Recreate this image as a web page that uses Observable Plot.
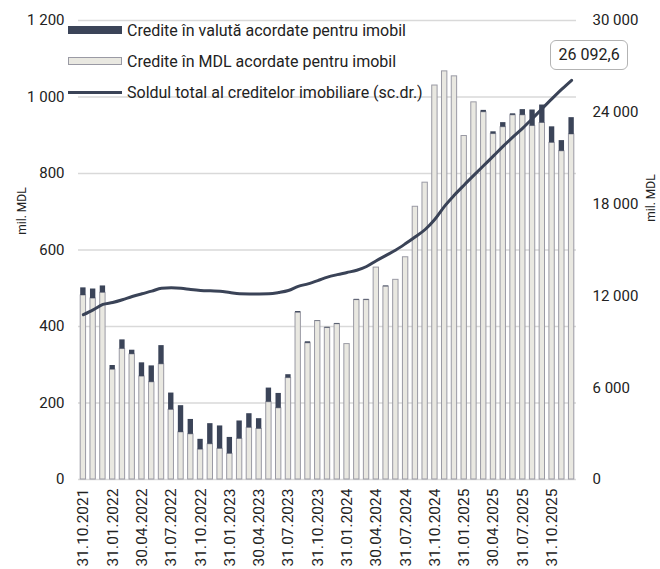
<!DOCTYPE html>
<html><head><meta charset="utf-8">
<script src="https://cdn.jsdelivr.net/npm/d3@7"></script>
<script src="https://cdn.jsdelivr.net/npm/@observablehq/plot@0.6"></script>
<style>
body{margin:0;background:#fff;font-family:Roboto,sans-serif;}
#wrap{position:relative;width:660px;height:569px;overflow:hidden;}
.leg{position:absolute;left:68px;height:20px;font-size:16px;color:#222;display:flex;align-items:center;white-space:nowrap;}
.sw{width:54px;margin-right:5px;box-sizing:border-box;flex:none;}
.ttl{position:absolute;font-size:12px;color:#222;white-space:nowrap;transform:translate(-50%,-50%) rotate(-90deg);}
#lbl{position:absolute;box-sizing:border-box;width:78px;height:30px;border:1.5px solid #b3b3b3;border-radius:6px;background:#fff;font-size:16px;color:#222;display:flex;align-items:center;justify-content:center;}
</style></head><body><div id="wrap"></div>
<script>
const dates = ["31.10.2021","30.11.2021","31.12.2021","31.01.2022","28.02.2022","31.03.2022","30.04.2022","31.05.2022","30.06.2022","31.07.2022","31.08.2022","30.09.2022","31.10.2022","30.11.2022","31.12.2022","31.01.2023","28.02.2023","31.03.2023","30.04.2023","31.05.2023","30.06.2023","31.07.2023","31.08.2023","30.09.2023","31.10.2023","30.11.2023","31.12.2023","31.01.2024","29.02.2024","31.03.2024","30.04.2024","31.05.2024","30.06.2024","31.07.2024","31.08.2024","30.09.2024","31.10.2024","30.11.2024","31.12.2024","31.01.2025","28.02.2025","31.03.2025","30.04.2025","31.05.2025","30.06.2025","31.07.2025","31.08.2025","30.09.2025","31.10.2025","30.11.2025","31.12.2025"];
const mdl = [481,473,488,287,341,327,269,254,301,182,123,118,78,92,80,67,106,135,132,202,186,265,436,356,414,396,406,354,469,469,554,504,522,581,713,776,1030,1067,1054,898,986,960,903,921,952,952,924,932,880,858,902];
const fx = [20,25,18,11,24,11,36,43,49,44,70,39,27,54,60,43,47,37,27,37,39,9,3,4,1,2,2,0,2,2,0,2,0,0,0,0,0,0,0,0,0,5,6,12,4,15,42,47,42,28,44];
const total = [10770,11090,11440,11570,11750,11960,12140,12310,12500,12530,12500,12420,12360,12330,12310,12220,12140,12130,12130,12140,12220,12350,12620,12790,13000,13230,13390,13530,13680,13920,14300,14650,15000,15420,15870,16340,17010,17870,18590,19250,19890,20520,21150,21790,22390,22970,23600,24250,24890,25510,26092.6];
const tickLabels = ["31.10.2021","31.01.2022","30.04.2022","31.07.2022","31.10.2022","31.01.2023","30.04.2023","31.07.2023","31.10.2023","31.01.2024","30.04.2024","31.07.2024","31.10.2024","31.01.2025","30.04.2025","31.07.2025","31.10.2025"];
const leftTicks = [0,200,400,600,800,1000,1200];
const rightTicks = [0,6000,12000,18000,24000,30000];
const seriesNames = ["Credite în valută acordate pentru imobil","Credite în MDL acordate pentru imobil","Soldul total al creditelor imobiliare (sc.dr.)"];
const axisTitle = "mil. MDL";

const RATIO = rightTicks[rightTicks.length-1] / leftTicks[leftTicks.length-1];
const loc = d3.formatLocale({decimal:",", thousands:"\u00a0", grouping:[3], currency:["",""]});
const fmt = loc.format(",");
const fmt1 = loc.format(",.1f");

const C_DARK = "#3b4458", C_LINE = "#3a4357", C_LIGHT = "#e9e8e1", C_EDGE = "#9a9aa4";

const rows = dates.map((d,i)=>({date:d, mdl:mdl[i], fx:fx[i], top:mdl[i]+fx[i], total:total[i]}));

const plot = Plot.plot({
  width:660, height:569, marginTop:20, marginBottom:90, marginLeft:78, marginRight:84,
  style:{fontFamily:"Roboto, sans-serif", fontSize:"15px", color:"#222", background:"transparent", overflow:"visible"},
  x:{type:"band", domain:dates, paddingInner:0.45, paddingOuter:0.225},
  y:{domain:[0,1200]},
  marks:[
    Plot.gridY(leftTicks,{stroke:"#d9d9d9", strokeOpacity:1, strokeWidth:1.5}),
    Plot.barY(rows,{x:"date", y1:0, y2:"mdl", fill:C_LIGHT, stroke:C_EDGE, strokeWidth:1}),
    Plot.barY(rows.filter(d=>d.fx>0),{x:"date", y1:"mdl", y2:"top", fill:C_DARK}),
    Plot.lineY(rows,{x:"date", y:d=>d.total/RATIO, stroke:C_LINE, strokeWidth:3, curve:"monotone-x"}),
    Plot.axisY(leftTicks,{anchor:"left", tickSize:0, tickPadding:14, tickFormat:fmt, label:null, fontSize:15}),
    Plot.axisY(rightTicks.map(v=>v/RATIO),{anchor:"right", tickSize:0, tickPadding:16, tickFormat:v=>fmt(Math.round(v*RATIO)), label:null, fontSize:15}),
    Plot.axisX(tickLabels,{tickRotate:-90, tickSize:0, tickPadding:9, label:null, fontSize:15.5})
  ]
});
const wrap = document.getElementById("wrap");
wrap.appendChild(plot);

// legend (overlaid at top-left, as in the reference)
const legY = [30, 61, 92];
const swStyles = [
  `height:8px;background:${C_DARK};`,
  `height:8px;background:${C_LIGHT};border:1px solid ${C_EDGE};`,
  `height:3px;background:${C_LINE};`
];
seriesNames.forEach((name,i)=>{
  const row = document.createElement("div");
  row.className = "leg";
  row.style.top = (legY[i]-10)+"px";
  row.innerHTML = `<div class="sw" style="${swStyles[i]}"></div><span>${name}</span>`;
  wrap.appendChild(row);
});

// axis titles
[[22,211],[651,198]].forEach(([x,y])=>{
  const t = document.createElement("div");
  t.className = "ttl";
  t.style.left = x+"px"; t.style.top = y+"px";
  t.textContent = axisTitle;
  wrap.appendChild(t);
});

// last value label
const sx = plot.scale("x"), sy = plot.scale("y");
const li = dates.length-1;
const px = sx.apply(dates[li]) + sx.bandwidth/2;
const py = sy.apply(total[li]/RATIO);
const lbl = document.createElement("div");
lbl.id = "lbl";
lbl.style.left = (px-21)+"px";
lbl.style.top = (py-40)+"px";
lbl.textContent = fmt1(total[li]);
wrap.appendChild(lbl);
</script></body></html>
